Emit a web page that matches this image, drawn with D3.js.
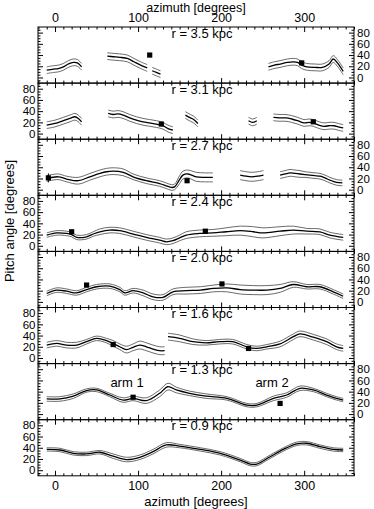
<!DOCTYPE html>
<html>
<head>
<meta charset="utf-8">
<script src="https://cdn.jsdelivr.net/npm/d3@7"></script>
<style>
  body { margin: 0; background: #fff; }
  text { font-family: "Liberation Sans", Arial, sans-serif; fill: #000; }
</style>
</head>
<body>
<svg width="374" height="509"></svg>
<script>
// pitch angle vs azimuth, one panel per radius
// each point is [azimuth, pitch, error]
const radii = ["3.5", "3.1", "2.7", "2.4", "2.0", "1.6", "1.3", "0.9"]

const r35 = [
  [[-10,13,6],[-2,15,6],[4,16,6],[10,19,6],[16,24,6],[22,27,6],[27,26,6],[32,19,6]],
  [[63,38,6],[70,37,6],[78,36,6],[87,34,6],[95,28,6],[103,22,6],[111,17,6]],
  [[117,12,6],[122,9,6],[127,6,6]],
  [[257,19,6],[264,22,6],[271,24,6],[280,27,6],[287,28,6],[292,27,6],[297,22,6],[303,19,6],[313,18,6],[322,18,6],[330,24,6],[335,33,6],[340,26,6],[347,11,6]]
]
const r31 = [
  [[-10,15,6],[0,18,6],[10,23,6],[18,27,6],[24,30,6],[28,27,6],[32,21,6]],
  [[64,36,6],[70,34,6],[76,35,6],[82,33,6],[90,28,6],[98,24,6],[106,21,6],[114,19,6],[122,17,6],[130,14,6],[136,9,6],[142,6,6]],
  [[157,33,6],[163,28,6],[167,25,6],[172,18,6]],
  [[233,23,6],[238,20,6],[243,23,6]],
  [[263,29,6],[270,28,6],[278,28,6],[285,26,6],[292,23,6],[300,19,6],[306,20,6],[311,19,6],[318,15,6],[324,13,6],[330,14,6],[336,14,6],[341,12,6],[347,10,6]]
]
const r27 = [
  [[-10,20,5],[4,23,5],[14,19,5],[28,16,6],[42,23,6],[54,29,6],[62,32,6],[70,33,6],[82,31,6],[94,23,5],[110,16,5],[126,11,5],[134,7,5],[140,4,5],[144,5,5],[150,18,7],[154,26,7],[160,28,7],[170,23,8],[180,22,8],[190,22,8]],
  [[223,26,8],[230,24,8],[237,23,8],[244,24,8],[251,26,8]],
  [[271,26,6],[277,28,6],[283,30,6],[289,29,6],[295,28,6],[301,27,5],[307,26,5],[313,25,5],[319,24,5],[325,21,5],[331,17,5],[339,13,5],[346,12,5]]
]
const r24 = [
  [[-10,19,4],[2,23,4],[14,22,4],[20,20,4],[26,15,4],[38,16,4],[46,21,4],[54,25,5],[66,28,5],[78,27,5],[94,21,5],[110,15,5],[126,10,5],[134,7,5],[142,9,5],[150,14,5],[158,19,6],[174,22,6],[190,23,6],[206,25,7],[223,27,8],[239,25,9],[250,23,9],[271,26,8],[287,28,7],[303,26,5],[319,25,5],[331,19,5],[347,15,5]]
]
const r20 = [
  [[-10,15,4],[2,21,4],[14,19,4],[26,16,4],[38,22,4],[50,27,4],[66,28,4],[78,22,4],[84,16,4],[94,20,4],[106,16,5],[118,9,5],[130,8,5],[142,18,5],[158,20,6],[175,21,6],[191,24,6],[207,25,7],[223,22,8],[239,21,8],[255,21,8],[271,24,7],[287,31,5],[303,27,4],[319,27,4],[335,18,4],[347,10,4]]
]
const r16 = [
  [[-10,23,5],[2,26,5],[14,23,5],[26,23,5],[38,29,4],[50,35,4],[62,31,4],[70,26,5],[78,20,5],[86,15,6],[94,19,6],[102,23,7],[110,20,7],[118,16,7],[126,13,7],[132,13,7]],
  [[136,38,6],[150,35,6],[166,29,5],[182,27,4],[198,29,4],[214,29,4],[231,20,4],[243,17,4],[255,20,4],[271,25,5],[287,38,5],[295,43,5],[311,37,5],[327,29,5],[339,20,5],[347,17,5]]
]
const r13 = [
  [[-10,27,4],[6,27,4],[22,32,4],[38,42,3],[50,43,3],[66,34,3],[82,25,4],[94,28,4],[110,24,5],[126,37,6],[136,49,6],[146,43,5],[162,37,4],[182,32,4],[207,28,3],[231,16,3],[243,16,3],[263,28,4],[279,34,4],[295,46,4],[311,43,3],[327,34,3],[339,28,3],[347,25,3]]
]
const r09 = [
  [[-10,37,3],[6,36,3],[22,30,3],[38,29,3],[54,32,3],[70,25,4],[86,19,4],[102,23,4],[118,33,4],[134,45,4],[150,43,3],[175,37,3],[199,30,3],[223,18,3],[235,11,3],[243,11,3],[259,24,3],[275,37,3],[291,47,3],[303,48,3],[319,42,3],[335,37,3],[347,36,3]]
]
const curves = [r35, r31, r27, r24, r20, r16, r13, r09]

// black squares: [azimuth, pitch, error bar]
const squares = [
  [[114,40,0],[297,26,0]],
  [[128,17,0],[311,21,0]],
  [[-8,21,8],[159,16,0]],
  [[20,25,0],[181,26,0]],
  [[38,30,0],[201,32,0]],
  [[70,24,0],[233,17,0]],
  [[94,30,0],[271,19,0]],
  []
]

const xMajor = [0, 100, 200, 300]
const yMajor = [0, 20, 40, 60, 80]

const svg = d3.select("svg")
const left = 38, right = 354, top0 = 27, ph = 56.1

const x = d3.scaleLinear().domain([-20.5, 360]).range([left, right])
const xMinor = d3.range(-20, 361, 10).filter(d => xMajor.indexOf(d) < 0)
const yMinor = d3.range(-5, 90, 5).filter(d => yMajor.indexOf(d) < 0)

const line = (yS, off) => d3.line()
  .x(d => x(d[0]))
  .y(d => yS(d[1] + off * d[2]))
  .curve(d3.curveCatmullRom.alpha(0.5))

radii.forEach(function(r, i) {
  const top = top0 + i * ph
  const y = d3.scaleLinear().domain([-10, 90]).range([top + ph, top])
  const g = svg.append("g")

  const clipId = "clip" + i
  g.append("clipPath").attr("id", clipId)
    .append("rect").attr("x", left).attr("y", top).attr("width", right - left).attr("height", ph)

  // x ticks on top and bottom, pointing inward
  const xt = [[d3.axisBottom, top + ph, i === 7], [d3.axisTop, top, i === 0]]
  xt.forEach(function(a) {
    g.append("g").attr("transform", "translate(0," + a[1] + ")")
      .call(a[0](x).tickValues(xMinor).tickSize(-2.5).tickFormat(""))
      .call(s => s.select(".domain").remove())
    g.append("g").attr("transform", "translate(0," + a[1] + ")")
      .call(a[0](x).tickValues(xMajor).tickSize(-5).tickPadding(5.5)
        .tickFormat(a[2] ? d3.format("d") : ""))
      .call(s => s.select(".domain").remove())
      .call(s => s.selectAll("text").style("font-size", "12.5px").style("font-family", null))
  })

  // y ticks left and right; labels alternate sides
  const yt = [[d3.axisLeft, left, i % 2 === 1, 2.5], [d3.axisRight, right, i % 2 === 0, 3]]
  yt.forEach(function(a) {
    g.append("g").attr("transform", "translate(" + a[1] + ",0)")
      .call(a[0](y).tickValues(yMinor).tickSize(-2.5).tickFormat(""))
      .call(s => s.select(".domain").remove())
    g.append("g").attr("transform", "translate(" + a[1] + ",0)")
      .call(a[0](y).tickValues(yMajor).tickSize(-5).tickPadding(a[3])
        .tickFormat(a[2] ? d3.format("d") : ""))
      .call(s => s.select(".domain").remove())
      .call(s => s.selectAll("text").style("font-size", "11.5px").style("font-family", null))
  })

  g.append("rect")
    .attr("x", left).attr("y", top).attr("width", right - left).attr("height", ph)
    .attr("fill", "none").attr("stroke", "#000").attr("stroke-width", 1)

  g.append("text")
    .attr("x", 202).attr("y", top + 10.5)
    .attr("text-anchor", "middle").style("font-size", "13px")
    .text("r = " + r + " kpc")

  const plot = g.append("g").attr("clip-path", "url(#" + clipId + ")")

  curves[i].forEach(function(seg) {
    [-1, 1].forEach(function(o) {
      plot.append("path").attr("d", line(y, o)(seg))
        .attr("fill", "none").attr("stroke", "#444").attr("stroke-width", 0.8)
    })
    plot.append("path").attr("d", line(y, 0)(seg))
      .attr("fill", "none").attr("stroke", "#000").attr("stroke-width", 1.3)
  })

  squares[i].forEach(function(s) {
    if (s[2]) {
      plot.append("line")
        .attr("x1", x(s[0])).attr("x2", x(s[0]))
        .attr("y1", y(s[1] - s[2])).attr("y2", y(s[1] + s[2]))
        .attr("stroke", "#000").attr("stroke-width", 1)
    }
    plot.append("rect")
      .attr("x", x(s[0]) - 2.6).attr("y", y(s[1]) - 2.6)
      .attr("width", 5.2).attr("height", 5.2).attr("fill", "#000")
  })

  if (i === 6) {
    g.append("text").attr("x", 127).attr("y", top + 23).attr("text-anchor", "middle")
      .style("font-size", "13px").text("arm 1")
    g.append("text").attr("x", 272).attr("y", top + 23).attr("text-anchor", "middle")
      .style("font-size", "13px").text("arm 2")
  }
})

svg.append("text").attr("x", 196).attr("y", 11.5).attr("text-anchor", "middle")
  .style("font-size", "12.5px").text("azimuth [degrees]")
svg.append("text").attr("x", 196).attr("y", 505.5).attr("text-anchor", "middle")
  .style("font-size", "13px").text("azimuth [degrees]")
svg.append("text").attr("transform", "translate(14,221) rotate(-90)")
  .attr("text-anchor", "middle").style("font-size", "13px")
  .text("Pitch angle [degrees]")
</script>
</body>
</html>
